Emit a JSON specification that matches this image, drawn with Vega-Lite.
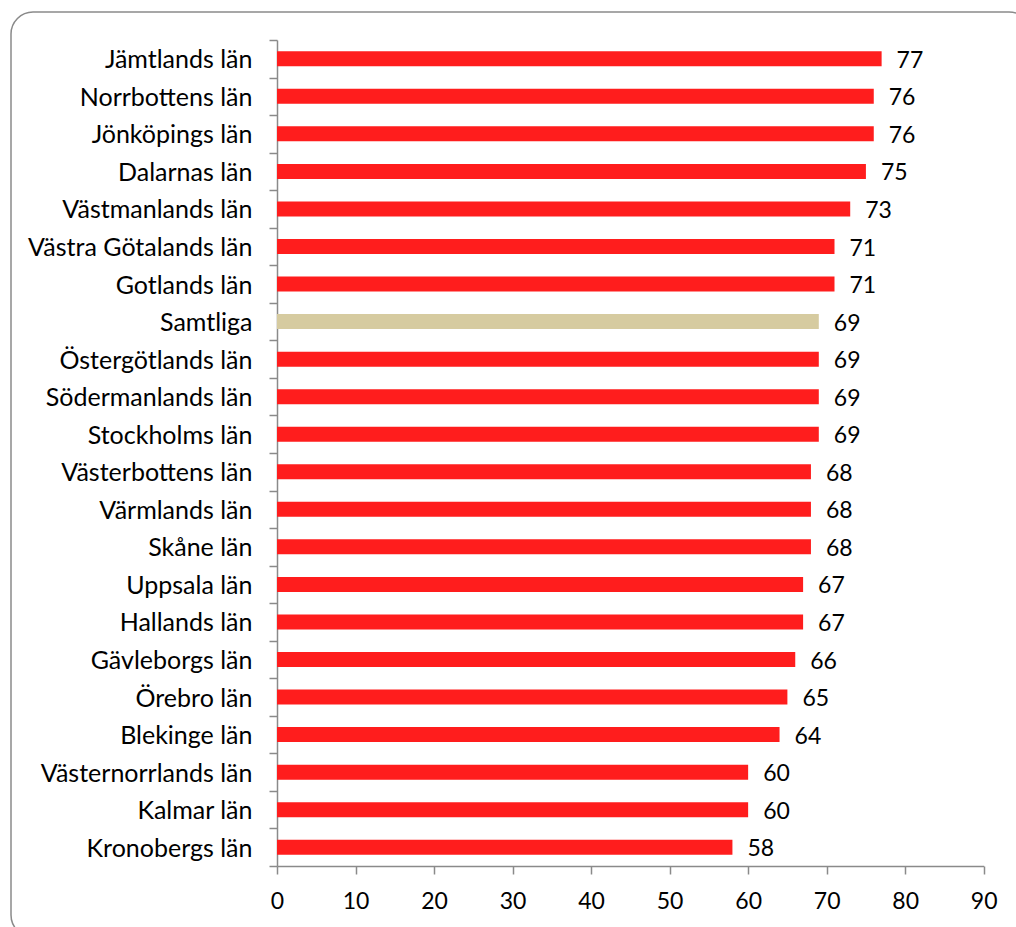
{
  "$schema": "https://vega.github.io/schema/vega-lite/v6.json",
  "width": 1020,
  "height": 925,
  "autosize": {"type": "none"},
  "padding": {"left": 11, "top": 12, "right": 0, "bottom": 0},
  "background": "white",
  "config": {
    "view": {"stroke": "#8a8a8a", "strokeWidth": 1.5, "cornerRadius": 22, "fill": "white"},
    "font": "Lato"
  },
  "data": {
    "values": [
      {"lan": "Jämtlands län", "varde": 77, "grupp": "län"},
      {"lan": "Norrbottens län", "varde": 76, "grupp": "län"},
      {"lan": "Jönköpings län", "varde": 76, "grupp": "län"},
      {"lan": "Dalarnas län", "varde": 75, "grupp": "län"},
      {"lan": "Västmanlands län", "varde": 73, "grupp": "län"},
      {"lan": "Västra Götalands län", "varde": 71, "grupp": "län"},
      {"lan": "Gotlands län", "varde": 71, "grupp": "län"},
      {"lan": "Samtliga", "varde": 69, "grupp": "samtliga"},
      {"lan": "Östergötlands län", "varde": 69, "grupp": "län"},
      {"lan": "Södermanlands län", "varde": 69, "grupp": "län"},
      {"lan": "Stockholms län", "varde": 69, "grupp": "län"},
      {"lan": "Västerbottens län", "varde": 68, "grupp": "län"},
      {"lan": "Värmlands län", "varde": 68, "grupp": "län"},
      {"lan": "Skåne län", "varde": 68, "grupp": "län"},
      {"lan": "Uppsala län", "varde": 67, "grupp": "län"},
      {"lan": "Hallands län", "varde": 67, "grupp": "län"},
      {"lan": "Gävleborgs län", "varde": 66, "grupp": "län"},
      {"lan": "Örebro län", "varde": 65, "grupp": "län"},
      {"lan": "Blekinge län", "varde": 64, "grupp": "län"},
      {"lan": "Västernorrlands län", "varde": 60, "grupp": "län"},
      {"lan": "Kalmar län", "varde": 60, "grupp": "län"},
      {"lan": "Kronobergs län", "varde": 58, "grupp": "län"}
    ]
  },
  "encoding": {
    "y": {
      "field": "lan",
      "type": "nominal",
      "sort": null,
      "title": null,
      "scale": {"range": [28, 854], "paddingInner": 0, "paddingOuter": 0},
      "axis": {
        "offset": -266,
        "tickBand": "extent",
        "domainColor": "#8a8a8a",
        "domainWidth": 1.5,
        "tickColor": "#8a8a8a",
        "tickWidth": 1.5,
        "tickSize": 8,
        "labelPadding": 17,
        "labelOffset": 1,
        "labelFontSize": 25,
        "labelColor": "#000000",
        "labelFont": "Lato",
        "labelLimit": 400
      }
    },
    "x": {
      "field": "varde",
      "type": "quantitative",
      "title": null,
      "scale": {"domain": [0, 90], "range": [266, 972.7], "nice": false},
      "axis": {
        "offset": -71,
        "values": [0, 10, 20, 30, 40, 50, 60, 70, 80, 90],
        "grid": false,
        "domainColor": "#8a8a8a",
        "domainWidth": 1.5,
        "tickColor": "#8a8a8a",
        "tickWidth": 1.5,
        "tickSize": 8,
        "labelPadding": 16,
        "labelFontSize": 23,
        "labelColor": "#000000",
        "labelFont": "Lato",
        "labelFlush": false
      }
    }
  },
  "layer": [
    {
      "mark": {"type": "bar", "height": {"band": 0.4}},
      "encoding": {
        "color": {
          "field": "grupp",
          "type": "nominal",
          "scale": {"domain": ["län", "samtliga"], "range": ["#ff1d1d", "#d6cba0"]},
          "legend": null
        }
      }
    },
    {
      "mark": {"type": "text", "align": "left", "baseline": "middle", "dx": 15, "dy": 2, "fontSize": 23, "font": "Lato", "color": "#000000"},
      "encoding": {
        "text": {"field": "varde", "type": "quantitative"}
      }
    }
  ]
}
